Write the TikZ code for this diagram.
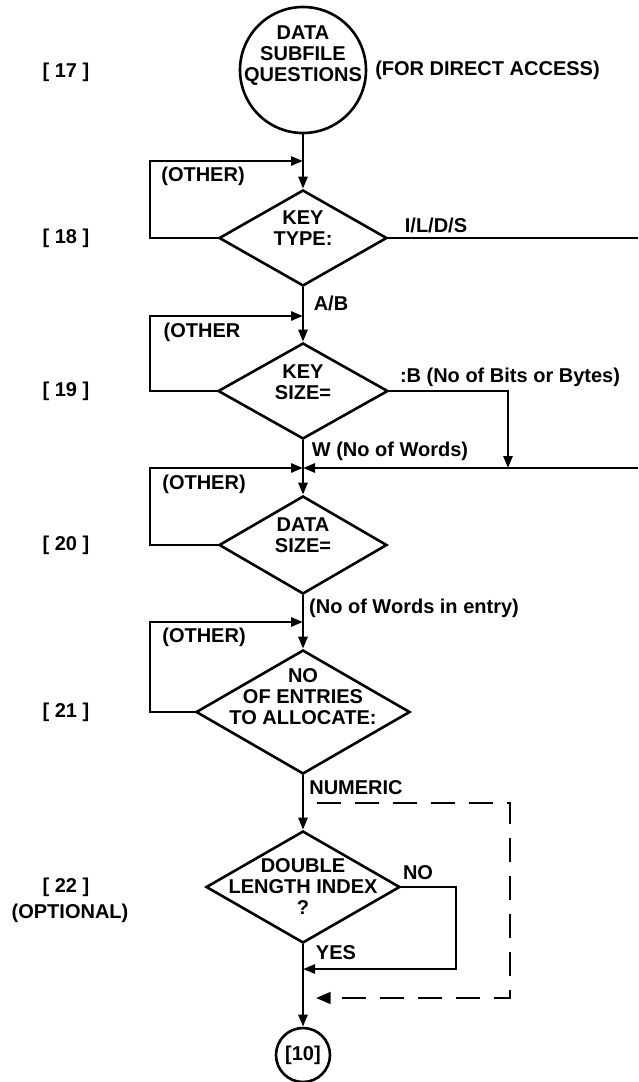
\documentclass[tikz,border=0pt]{standalone}
\usepackage{fontspec}
\setmainfont{Liberation Sans}
\usetikzlibrary{arrows.meta,shapes.geometric}

\begin{document}
\begin{tikzpicture}[x=0.5pt,y=-0.5pt,line width=1.3pt,
    every node/.style={font=\bfseries\fontsize{10}{10.5}\selectfont},
    flow/.style={-{Triangle[length=6pt,width=4.5pt]}},
    dflow/.style={-{Triangle[length=7.3pt,width=5.8pt]},dash pattern=on 12pt off 7pt},
    decision/.style={diamond,draw,inner sep=0pt,aspect=1.75},
    term/.style={circle,draw,inner sep=0pt},
    txt/.style={align=center,inner sep=0pt}]
    \useasboundingbox (0,0) rectangle (638,1082);

    % step tags on the left
    \foreach \n/\y in {17/72,18/238,19/391,20/545,21/712,22/887}{
        \node (tag\n) at (66,\y) {[\ \n\ ]};
    }
    \node (opt) at (70,913) {(OPTIONAL)};

    % boxes
    \node[term,minimum size=63pt,label={[txt,yshift=7pt]center:{DATA\\SUBFILE\\QUESTIONS}}] (start) at (303,70) {};
    \node[anchor=west] (access) at (start.east) {(FOR DIRECT ACCESS)};
    \node[decision,minimum width=84pt,minimum height=48pt,label={[txt,yshift=5pt]center:{KEY\\TYPE:}}] (keytype) at (303,238) {};
    \node[decision,minimum width=85pt,minimum height=48pt,label={[txt,yshift=4.5pt]center:{KEY\\SIZE=}}] (keysize) at (303,391) {};
    \node[decision,minimum width=84pt,minimum height=49pt,label={[txt,yshift=5pt]center:{DATA\\SIZE=}}] (datasize) at (303,545) {};
    \node[decision,minimum width=107pt,minimum height=62pt,label={[txt,yshift=7.5pt]center:{NO\\OF ENTRIES\\TO ALLOCATE:}}] (alloc) at (303,712) {};
    \node[decision,minimum width=97pt,minimum height=56pt,label={[txt]center:{DOUBLE\\LENGTH INDEX\\?}}] (dbl) at (303,887) {};
    \node[term,minimum size=27pt] (finish) at (303,1055) {[10]};

    % join points
    \coordinate (lft) at (150,0);
    \coordinate (rgt) at (638,0);
    \coordinate (nor) at (456,0);
    \coordinate (j1) at (303,161);
    \coordinate (j2) at (303,316);
    \coordinate (j3) at (303,468);
    \coordinate (j4) at (303,622);
    \coordinate (j5) at (303,969);
    \coordinate (j6) at (316,998);
    \coordinate (bdrop) at (508,468);
    \coordinate (dsh) at (317,803);
    \coordinate (dshc) at (510,998);

    % connectors
    \draw[flow] (start) -- (keytype);
    \draw[flow] (keytype.west) -- (keytype.west -| lft) |- (j1);
    \draw (keytype.east) -- (keytype.east -| rgt);
    \draw[flow] (keytype) -- (keysize);
    \draw[flow] (keysize.west) -- (keysize.west -| lft) |- (j2);
    \draw[flow] (keysize.east) -| (bdrop);
    \draw[flow] (keysize) -- (datasize);
    \draw[flow] (j3 -| rgt) -- (j3);
    \draw[flow] (datasize.west) -- (datasize.west -| lft) |- (j3);
    \draw[flow] (datasize) -- (alloc);
    \draw[flow] (alloc.west) -- (alloc.west -| lft) |- (j4);
    \draw[flow] (alloc) -- (dbl);
    \draw[flow] (dbl.east) -- (dbl.east -| nor) |- (j5);
    \draw[dflow] (dsh) -| (dshc) -- (j6);
    \draw[flow] (dbl) -- (finish);

    % branch texts
    \node (oth1) at (203,176) {(OTHER)};
    \node (oth2) at (202,332) {(OTHER};
    \node (oth3) at (204,484) {(OTHER)};
    \node (oth4) at (204,637) {(OTHER)};
    \node (ilds) at (436,225) {I/L/D/S};
    \node (ab) at (331,303) {A/B};
    \node (bits) at (510,377) {:B (No of Bits or Bytes)};
    \node (words) at (390,451) {W (No of Words)};
    \node (entry) at (414,608) {(No of Words in entry)};
    \node (numeric) at (356,788) {NUMERIC};
    \node (no) at (418,873) {NO};
    \node (yes) at (336,953) {YES};
\end{tikzpicture}
\end{document}
